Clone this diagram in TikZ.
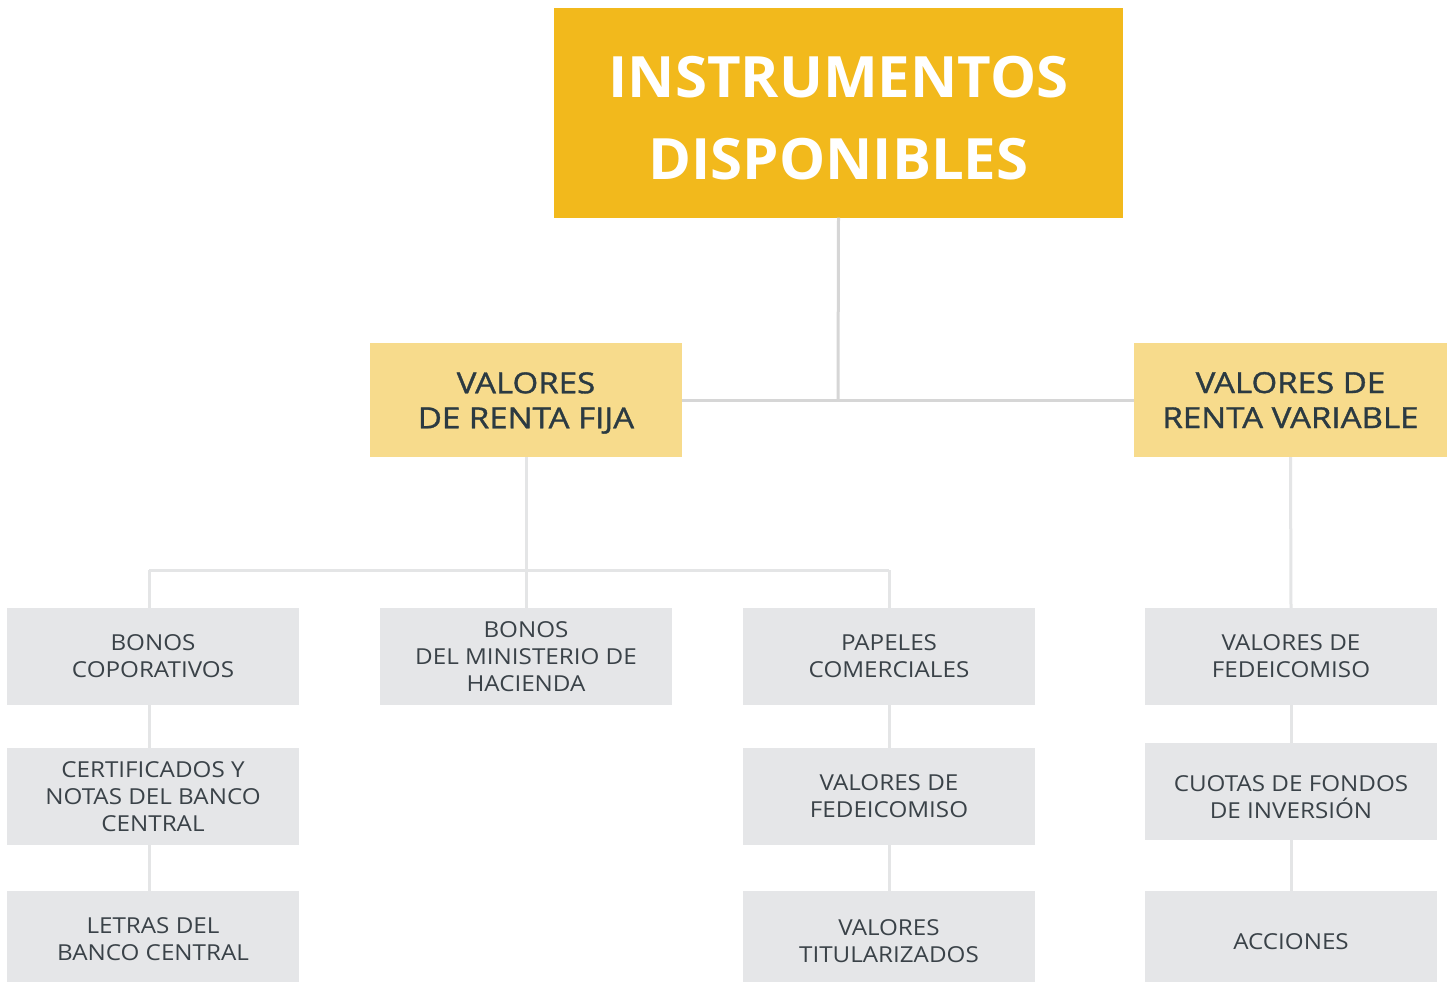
\documentclass[tikz,border=0pt]{standalone}
\usepackage{fontspec}
\setmainfont{Open Sans}
\definecolor{topc}{HTML}{F2B91C}
\definecolor{midc}{HTML}{F7DB8C}
\definecolor{grayc}{HTML}{E5E6E8}
\definecolor{linec}{HTML}{D6D6D6}
\definecolor{linec2}{HTML}{E4E5E6}
\definecolor{txtc}{HTML}{2B3A42}
\definecolor{txtg}{HTML}{3A4248}
\begin{document}
\begin{tikzpicture}[x=1pt,y=-1pt,
  topbox/.style={fill=topc,inner sep=0pt,minimum width=569pt,minimum height=209pt},
  toptext/.style={inner sep=0pt,text=white,align=center,font=\fontsize{57}{82}\selectfont\bfseries\addfontfeature{FakeStretch=1.02}},
  midbox/.style={fill=midc,inner sep=0pt,minimum width=312pt,minimum height=114pt},
  midtext/.style={inner sep=0pt,text=txtc,align=center,font=\fontsize{29}{35}\selectfont\addfontfeature{FakeStretch=1.14,FakeBold=1.2}},
  graybox/.style={fill=grayc,inner sep=0pt,minimum width=292pt,minimum height=97pt,text=txtg,align=center,font=\fontsize{22}{27}\selectfont\addfontfeature{FakeStretch=1.1}},
  graytext/.style={inner sep=0pt,text=txtg,align=center,font=\fontsize{22}{27}\selectfont\addfontfeature{FakeStretch=1.1}},
  conn/.style={draw=linec,line width=3pt},
  conn2/.style={draw=linec2,line width=3pt}]
\useasboundingbox (0,0) rectangle (1452,982);
\fill[white] (0,0) rectangle (1452,982);
\coordinate (jt) at (838,400);
\coordinate (jf) at (526,570);
\coordinate (jl) at (149,570);
\coordinate (jr) at (889,570);
\node[topbox] (top) at (838.5,113) {};
\node[toptext] (topt) at (838.5,118.5) {INSTRUMENTOS\\DISPONIBLES};
\node[midbox] (fija) at (526,400) {};
\node[midtext] (fijat) at (526,403) {VALORES\\DE RENTA FIJA};
\node[midbox,minimum width=313pt] (var) at (1290.5,400) {};
\node[midtext] (vart) at (1290.5,400) {VALORES DE\\RENTA VARIABLE};
\node[graybox] (b1) at (153,656.5) {BONOS\\COPORATIVOS};
\node[graybox] (b2) at (153,796.5) {CERTIFICADOS Y\\NOTAS DEL BANCO\\CENTRAL};
\node[graybox] (b3) at (153,939.5) {LETRAS DEL\\BANCO CENTRAL};
\node[graybox] (c1) at (526,656.5) {BONOS\\DEL MINISTERIO DE\\HACIENDA};
\node[graybox] (d1) at (889,656.5) {PAPELES\\COMERCIALES};
\node[graybox] (d2) at (889,796.5) {VALORES DE\\FEDEICOMISO};
\node[graybox] (d3) at (889,939.5) {};
\node[graytext] (d3t) at (889,941.5) {VALORES\\TITULARIZADOS};
\node[graybox] (e1) at (1291,656.5) {VALORES DE\\FEDEICOMISO};
\node[graybox] (e2) at (1291,791.5) {};
\node[graytext] (e2t) at (1291,797) {CUOTAS DE FONDOS\\DE INVERSIÓN};
\node[graybox] (e3) at (1291,939.5) {};
\node[graytext] (e3t) at (1291,941.5) {ACCIONES};
\draw[conn] (top.south) -- (jt);
\draw[conn] (fija.east) -- (var.west);
\draw[conn2] (fija.south) -- (jf);
\draw[conn2] (jl) -- (jr);
\draw[conn2] (jl) -- (jl |- b1.north);
\draw[conn2] (jf) -- (c1.north);
\draw[conn2] (jr) -- (d1.north);
\draw[conn2] (b1.south -| jl) -- (b2.north -| jl);
\draw[conn2] (b2.south -| jl) -- (b3.north -| jl);
\draw[conn2] (d1.south) -- (d2.north);
\draw[conn2] (d2.south) -- (d3.north);
\draw[conn2] (var.south) -- (e1.north);
\draw[conn2] (e1.south) -- (e2.north);
\draw[conn2] (e2.south) -- (e3.north);
\end{tikzpicture}
\end{document}
